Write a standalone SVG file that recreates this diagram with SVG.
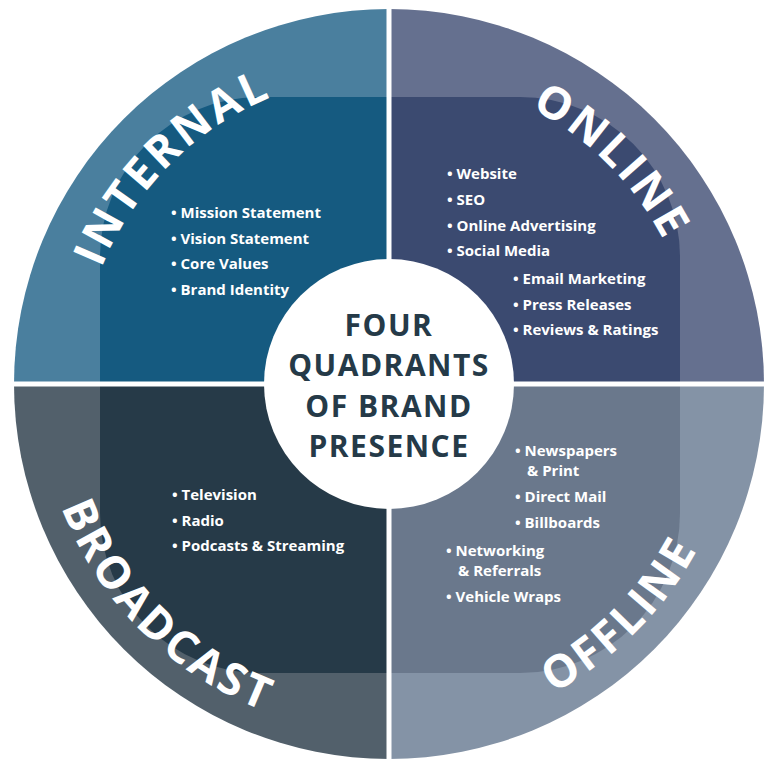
<svg xmlns="http://www.w3.org/2000/svg" width="776" height="776" viewBox="0 0 776 776">
<style>
.lab{font-family:"Open Sans","Noto Sans",sans-serif;font-weight:700;font-size:45px;fill:#fff;letter-spacing:3px}
.b{font-family:"Open Sans","Noto Sans",sans-serif;font-weight:700;font-size:15px;fill:#fff}
.c{font-family:"Open Sans","Noto Sans",sans-serif;font-weight:700;font-size:30px;fill:#253a48;letter-spacing:1.5px;text-anchor:middle}
</style>
<defs>
<clipPath id="outer"><circle cx="389" cy="384" r="375"/></clipPath>
<clipPath id="inner"><rect x="100" y="97" width="580" height="576" rx="160"/></clipPath>
<path id="top" d="M79,384 A310,310 0 0 1 699,384"/>
<path id="bot" d="M39,384 A350,350 0 0 0 739,384"/>
</defs>
<g id="ring" clip-path="url(#outer)">
<rect x="0" y="0" width="389" height="384" fill="#4a7f9e"/>
<rect x="389" y="0" width="387" height="384" fill="#65708f"/>
<rect x="389" y="384" width="387" height="392" fill="#8493a6"/>
<rect x="0" y="384" width="389" height="392" fill="#52606b"/>
</g>
<g id="innerq" clip-path="url(#inner)">
<rect x="0" y="0" width="389" height="384" fill="#155a80"/>
<rect x="389" y="0" width="387" height="384" fill="#3b4a70"/>
<rect x="389" y="384" width="387" height="392" fill="#6a788c"/>
<rect x="0" y="384" width="389" height="392" fill="#263a48"/>
</g>
<g id="gaps" stroke="#fff" stroke-width="5">
<line x1="389" y1="0" x2="389" y2="776"/>
<line x1="0" y1="384" x2="776" y2="384"/>
</g>
<circle id="center" cx="389" cy="384" r="125" fill="#fff"/>
<g id="labels">
<text class="lab"><textPath href="#top" startOffset="25%" text-anchor="middle">INTERNAL</textPath></text>
<text class="lab"><textPath href="#top" startOffset="75%" text-anchor="middle">ONLINE</textPath></text>
<text class="lab"><textPath href="#bot" startOffset="25%" text-anchor="middle">BROADCAST</textPath></text>
<text class="lab"><textPath href="#bot" startOffset="75%" text-anchor="middle">OFFLINE</textPath></text>
</g>
<g id="internal">
<text class="b" x="171" y="218">• Mission Statement</text>
<text class="b" x="171" y="244">• Vision Statement</text>
<text class="b" x="171" y="269">• Core Values</text>
<text class="b" x="171" y="295">• Brand Identity</text>
</g>
<g id="online">
<text class="b" x="447" y="179">• Website</text>
<text class="b" x="447" y="205">• SEO</text>
<text class="b" x="447" y="231">• Online Advertising</text>
<text class="b" x="447" y="256">• Social Media</text>
<text class="b" x="513" y="284">• Email Marketing</text>
<text class="b" x="513" y="310">• Press Releases</text>
<text class="b" x="513" y="335">• Reviews &amp; Ratings</text>
</g>
<g id="offline">
<text class="b" x="515" y="456">• Newspapers</text>
<text class="b" x="527" y="476">&amp; Print</text>
<text class="b" x="515" y="502">• Direct Mail</text>
<text class="b" x="515" y="528">• Billboards</text>
<text class="b" x="446" y="556">• Networking</text>
<text class="b" x="458" y="576">&amp; Referrals</text>
<text class="b" x="446" y="602">• Vehicle Wraps</text>
</g>
<g id="broadcast">
<text class="b" x="172" y="500">• Television</text>
<text class="b" x="172" y="526">• Radio</text>
<text class="b" x="172" y="551">• Podcasts &amp; Streaming</text>
</g>
<g id="title">
<text class="c" x="389" y="336">FOUR</text>
<text class="c" x="389" y="376">QUADRANTS</text>
<text class="c" x="389" y="417">OF BRAND</text>
<text class="c" x="389" y="457">PRESENCE</text>
</g>
</svg>
